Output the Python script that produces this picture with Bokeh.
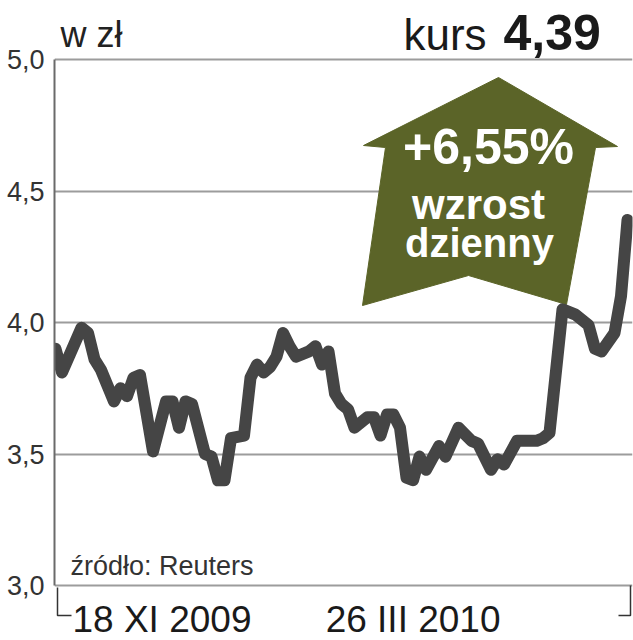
from bokeh.plotting import figure
from bokeh.models import Range1d, FixedTicker, Label
from bokeh.embed import file_html
from bokeh.resources import INLINE

# ---------------- data ----------------
SESSIONS = [0, 1, 4, 5, 6, 7, 9, 10, 11, 12, 13, 15, 17, 18, 19, 20, 21, 23, 24, 25,
            26, 27, 29, 30, 31, 32, 33, 34, 35, 36, 37, 39, 40, 41, 42, 43, 44, 45, 46,
            48, 49, 50, 51, 52, 53, 54, 55, 56, 57, 59, 60, 62, 64, 65, 67, 68, 69, 71,
            74, 75, 76, 78, 80, 82, 83, 84, 86, 87, 88]
CLOSE = [3.90, 3.81, 3.98, 3.96, 3.86, 3.82, 3.70, 3.75, 3.72, 3.79, 3.80, 3.51, 3.70,
         3.70, 3.60, 3.70, 3.69, 3.50, 3.49, 3.40, 3.40, 3.56, 3.57, 3.79, 3.84, 3.81,
         3.83, 3.87, 3.96, 3.91, 3.87, 3.89, 3.91, 3.84, 3.89, 3.73, 3.69, 3.67, 3.60,
         3.64, 3.64, 3.57, 3.65, 3.65, 3.60, 3.41, 3.40, 3.49, 3.44, 3.53, 3.49, 3.60,
         3.55, 3.54, 3.44, 3.48, 3.46, 3.55, 3.55, 3.56, 3.58, 4.05, 4.03, 3.99, 3.90,
         3.89, 3.96, 4.10, 4.39]
Y_TICKS = [3.0, 3.5, 4.0, 4.5, 5.0]
Y_TICK_LABELS = ["3,0", "3,5", "4,0", "4,5", "5,0"]
DATE_LABELS = ["18 XI 2009", "26 III 2010"]
UNIT = "w zł"
LAST_TITLE = "kurs"
LAST_VALUE = "4,39"
CHANGE_TEXT = ["+6,55%", "wzrost", "dzienny"]
SOURCE = "źródło: Reuters"

# ---------------- geometry helpers (picture pixels -> data) ----------------
PX0, PX_STEP = 55.0, 6.5          # x of session 0, px per session
PY3, PY_UNIT = 585.0, 263.0       # y of 3.0, px per 1 zł


def fx(px):
    return (px - PX0) / PX_STEP


def fy(py):
    return 3.0 + (PY3 - py) / PY_UNIT


REG = "Liberation Sans"

p = figure(width=633, height=640, output_backend="svg", toolbar_location=None,
           x_range=Range1d(fx(54), fx(632)), y_range=Range1d(fy(640), fy(0)),
           x_axis_location=None, y_axis_location="left",
           min_border_left=54, min_border_right=1, min_border_top=0, min_border_bottom=0)
p.outline_line_color = None
p.background_fill_color = "white"
p.border_fill_color = "white"

# y axis
p.yaxis.ticker = FixedTicker(ticks=Y_TICKS)
p.yaxis.bounds = (Y_TICKS[0], Y_TICKS[-1])
p.yaxis.major_label_overrides = {t: l for t, l in zip(Y_TICKS, Y_TICK_LABELS)}
p.yaxis.axis_line_color = "#6a6a6a"
p.yaxis.axis_line_width = 2
p.yaxis.major_tick_line_color = None
p.yaxis.minor_tick_line_color = None
p.yaxis.major_tick_out = 0
p.yaxis.major_tick_in = 0
p.yaxis.major_label_standoff = 10
p.yaxis.major_label_text_font = REG
p.yaxis.major_label_text_font_size = "27px"
p.yaxis.major_label_text_color = "#333333"

p.ygrid.ticker = FixedTicker(ticks=Y_TICKS)
p.ygrid.grid_line_color = "#9c9c9c"
p.ygrid.grid_line_width = 2
p.xgrid.visible = False

# arrow (decoration)
arrow_px = [(498, 77), (617, 146), (595, 147), (566, 304), (468, 275),
            (362, 305), (385, 147), (363, 145)]
p.patch([fx(a) for a, b in arrow_px], [fy(b) for a, b in arrow_px],
        fill_color="#5b6428", line_color="#5b6428", line_width=1)

# price line
p.line(SESSIONS, CLOSE, line_width=12, line_color="#454545",
       line_join="round", line_cap="round")

# date brackets
p.line([fx(57), fx(57), fx(71)], [fy(587), fy(615), fy(615)],
       line_color="#333333", line_width=1.5)
p.line([fx(618), fx(630), fx(630)], [fy(615), fy(615), fy(585)],
       line_color="#333333", line_width=1.5)


def lab(text, px, py, size, color="#1a1a1a", align="left", style="normal"):
    # py is the wanted baseline; compensate the renderer's baseline offset
    p.add_layout(Label(x=fx(px), y=fy(py - 0.37 * size), text=text, text_font=REG,
                       text_font_size=f"{size}px", text_color=color, text_align=align,
                       text_baseline="alphabetic", text_font_style=style))


lab(UNIT, 60, 47, 36, "#222222")
lab(LAST_TITLE, 403, 50, 44, "#1a1a1a")
lab(LAST_VALUE, 503, 50, 50, "#1a1a1a", style="bold")
lab(CHANGE_TEXT[0], 488, 165, 50, "white", "center", "bold")
lab(CHANGE_TEXT[1], 478, 220, 42, "white", "center", "bold")
lab(CHANGE_TEXT[2], 479, 257, 40, "white", "center", "bold")
lab(SOURCE, 70, 575, 27, "#333333")
lab(DATE_LABELS[0], 72, 633, 37, "#1a1a1a")
lab(DATE_LABELS[1], 500, 633, 37, "#1a1a1a", "right")

open("out.html", "w").write(file_html(p, INLINE))
